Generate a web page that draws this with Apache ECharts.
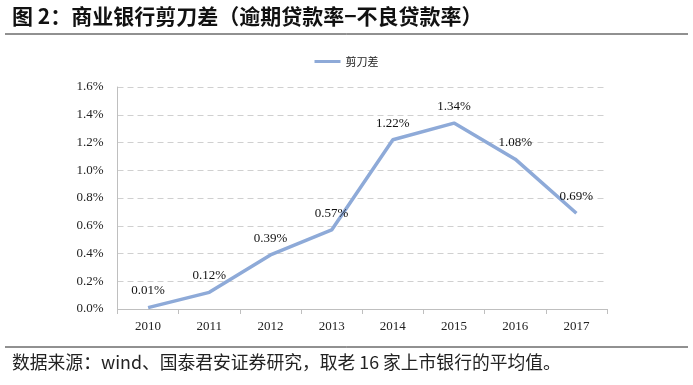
<!DOCTYPE html>
<html><head><meta charset="utf-8">
<script src="https://cdn.jsdelivr.net/npm/echarts@6/dist/echarts.min.js"></script>
<style>html,body{margin:0;padding:0;background:#fff}#c{width:693px;height:385px}</style>
</head><body><div id="c"></div>
<script>
const categories = ['2010','2011','2012','2013','2014','2015','2016','2017'];
const values = [0.01, 0.12, 0.39, 0.57, 1.22, 1.34, 1.08, 0.69];
const seriesName = '剪刀差';
const titleText = '图 2：商业银行剪刀差（逾期贷款率−不良贷款率）';
const sourceText = '数据来源：wind、国泰君安证券研究，取老 16 家上市银行的平均值。';

const chart = echarts.init(document.getElementById('c'));
chart.setOption({
  animation: false,
  backgroundColor: '#fff',
  legend: {
    top: 51, left: 'center',
    itemWidth: 26, itemHeight: 3,
    icon: 'rect',
    textStyle: {fontFamily: 'Noto Sans CJK SC', fontSize: 11, color: '#222'},
    data: [seriesName]
  },
  grid: {left: 117.5, right: 86, top: 87, bottom: 76},
  xAxis: {
    type: 'category', data: categories, boundaryGap: true,
    axisLine: {lineStyle: {color: '#bfbfbf'}},
    axisTick: {show: true, alignWithLabel: false, length: 5, lineStyle: {color: '#bfbfbf'}},
    axisLabel: {fontFamily: 'Liberation Serif', fontSize: 13, color: '#222', margin: 11}
  },
  yAxis: {
    type: 'value', min: 0, max: 1.6, interval: 0.2,
    axisLine: {show: true, lineStyle: {color: '#bfbfbf'}},
    axisTick: {show: false},
    splitLine: {lineStyle: {color: '#d0d0d0', type: [6, 4]}},
    axisLabel: {fontFamily: 'Liberation Serif', fontSize: 13, color: '#222', margin: 14,
      formatter: v => v.toFixed(1) + '%'}
  },
  series: [{
    name: seriesName, type: 'line', data: values,
    symbol: 'circle', symbolSize: 0.1, showSymbol: true,
    lineStyle: {color: '#8eaad8', width: 3.5},
    itemStyle: {color: '#8eaad8'},
    label: {show: true, position: 'top', distance: 10,
      fontFamily: 'Liberation Serif', fontSize: 13, color: '#111',
      formatter: p => p.value.toFixed(2) + '%'}
  }],
  graphic: [
    {type: 'text', left: 12, top: 6, style: {text: titleText, font: 'bold 21px "Noto Sans CJK SC"', fill: '#111'}},
    {type: 'line', shape: {x1: 5, y1: 34, x2: 688, y2: 34}, style: {stroke: '#222', lineWidth: 1}},
    {type: 'line', shape: {x1: 5, y1: 347, x2: 688, y2: 347}, style: {stroke: '#222', lineWidth: 1}},
    {type: 'text', left: 12, top: 353, style: {text: sourceText, font: '17.8px "Noto Sans CJK SC"', fill: '#222'}}
  ]
});
</script></body></html>
